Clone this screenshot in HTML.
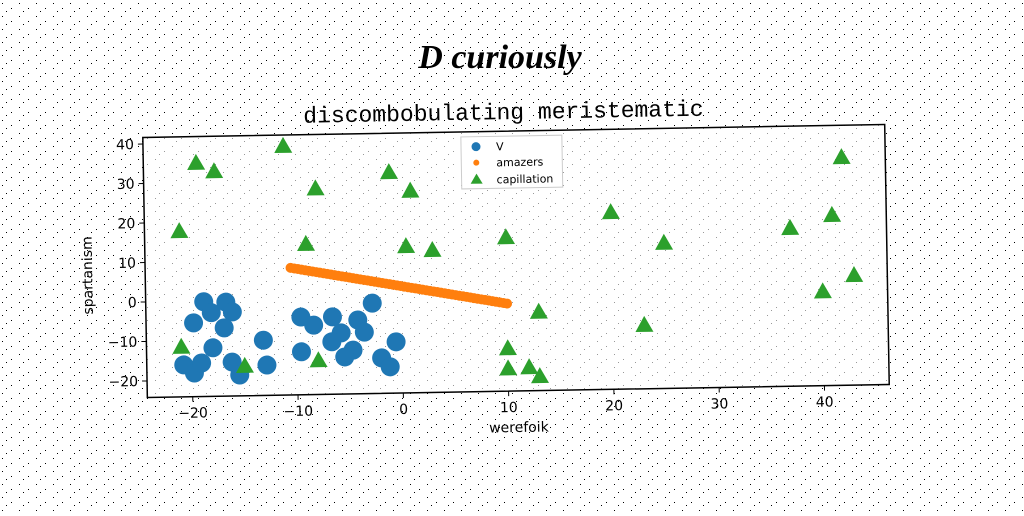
<!DOCTYPE html>
<html><head><meta charset="utf-8"><style>
body{margin:0;background:#fff;width:1024px;height:512px;overflow:hidden;font-family:"DejaVu Sans","Liberation Sans",sans-serif}
</style></head><body>
<svg width="1024" height="512">
<defs><pattern id="noise" width="17" height="13" patternUnits="userSpaceOnUse">
<rect x="2" y="3" width="1" height="1" fill="#000"/><rect x="11" y="8" width="1" height="1" fill="#000"/><rect x="6" y="11" width="1" height="1" fill="#000"/></pattern></defs>
<rect width="1024" height="512" fill="url(#noise)"/>
<text x="500" y="68" text-anchor="middle" font-family="'Liberation Serif',serif" font-style="italic" font-weight="bold" font-size="34">D curiously</text>
<g id="plot" transform="rotate(-1 516 260)">
<text x="506" y="119" text-anchor="middle" font-family="'Liberation Mono',monospace" font-size="23">discombobulating meristematic</text>
<rect x="145" y="131" width="742" height="260" fill="#fff" fill-opacity="0.6" stroke="#000" stroke-width="1.5"/>
<g id="marks"></g>
<g id="axes"></g>
<text x="516" y="432" text-anchor="middle" font-size="14">werefoik</text>
<text transform="translate(92 268) rotate(-90)" text-anchor="middle" font-size="14">spartanism</text>
<g>
<rect x="463" y="136" width="101" height="52" fill="#fff" stroke="#ccc"/>
<circle cx="478" cy="146" r="4.5" fill="#1f77b4"/><text x="498" y="150" font-size="11">V</text>
<circle cx="478" cy="162" r="3" fill="#ff7f0e"/><text x="498" y="166" font-size="11">amazers</text>
<polygon points="478,173 484,183 472,183" fill="#2ca02c"/><text x="498" y="183" font-size="11">capillation</text>
</g>
</g>
</svg>
<script>
const blueX=[-20.8,-19.8,-18.8,-18.1,-16.7,-16.1,-16.9,-19.8,-18,-19.1,-13.2,-12.9,-16.2,-15.5,-9.6,-9.6,-8.4,-6.6,-4.2,-3.6,-5.8,-6.7,-4.7,-5.5,-2.8,-0.6,-2,-1.2];
const blueY=[-16.1,-5.5,-0.2,-3,-0.4,-2.9,-6.9,-18.2,-11.9,-15.7,-10.2,-16.5,-15.6,-18.9,-4.5,-13.3,-6.6,-4.6,-5.5,-8.6,-8.7,-10.9,-13.1,-14.8,-1.3,-11.2,-15.2,-17.5];
const orangeStart=[-10.5,8];
const orangeEnd=[10,-2];
const orangeCount=60;
const greenX=[-19.3,-17.6,-11,-8,-21,-9,-1,1,0.5,3,10,20,25,37,41,42,40,43,13,23,10,10,12,13,-21,-15,-8];
const greenY=[35,32.8,38.9,28,17.8,14,31.8,27,13,11.9,14.8,20.7,12.7,15.9,19,33.6,-0.3,3.7,-4.2,-8,-13.3,-18.4,-18.2,-20.5,-11.5,-16.6,-15.5];
const xTicks=[-20,-10,0,10,20,30,40];
const yTicks=[-20,-10,0,10,20,30,40];
const sx=v=>401+10.53*v, sy=v=>295.5-3.95*v;
const NS="http://www.w3.org/2000/svg";
const marks=document.getElementById('marks'), axes=document.getElementById('axes');
function mk(t,a,p){const e=document.createElementNS(NS,t);for(const k in a)e.setAttribute(k,a[k]);p.appendChild(e);return e;}
xTicks.forEach(v=>{
 const l=mk('line',{x1:sx(v),x2:sx(v),y1:391,y2:396,stroke:'#000'},axes);
 
 
 const t=mk('text',{x:sx(v),y:412,'text-anchor':'middle','font-size':14},axes);t.textContent=v<0?'\u2212'+(-v):v;
 
 
});
yTicks.forEach(v=>{
 const l=mk('line',{x1:140,x2:145,y1:sy(v),y2:sy(v),stroke:'#000'},axes);
 
 
 const t=mk('text',{x:136,y:sy(v)+5,'text-anchor':'end','font-size':14},axes);t.textContent=v<0?'\u2212'+(-v):v;
 
 
});
blueX.forEach((x,i)=>{const c=mk('circle',{cx:sx(x),cy:sy(blueY[i]),r:9.5,fill:'#1f77b4'},marks);
 
 });
for(let i=0;i<orangeCount;i++){const f=i/(orangeCount-1);
 const x=orangeStart[0]+(orangeEnd[0]-orangeStart[0])*f, y=orangeStart[1]+(orangeEnd[1]-orangeStart[1])*f;
 const c=mk('circle',{cx:sx(x),cy:sy(y),r:5,fill:'#ff7f0e'},marks);
 
 }
greenX.forEach((x,i)=>{const X=sx(x),Y=sy(greenY[i]);
 const p=mk('polygon',{points:`${X},${Y-9} ${X+9},${Y+7} ${X-9},${Y+7}`,fill:'#2ca02c'},marks);
 
 });
</script>
</body></html>
